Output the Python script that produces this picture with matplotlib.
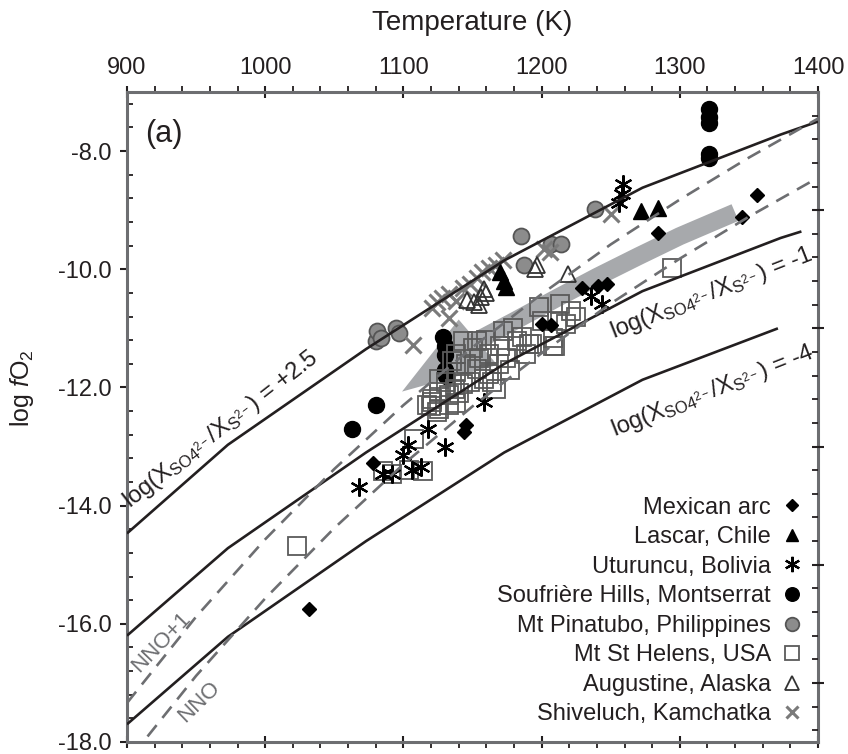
import numpy as np
import matplotlib
matplotlib.use('Agg')
import matplotlib.pyplot as plt
from matplotlib.lines import Line2D
from matplotlib.patches import Polygon
from matplotlib.ticker import MultipleLocator, FixedLocator

plt.rcParams['font.family'] = ['Liberation Sans', 'DejaVu Sans']
plt.rcParams['mathtext.fontset'] = 'custom'
plt.rcParams['mathtext.rm'] = 'Liberation Sans'
plt.rcParams['mathtext.it'] = 'Liberation Sans:italic'
plt.rcParams['mathtext.default'] = 'regular'

INK = '#231f20'
GREY = '#6d6e71'
BAND = '#a7a9ac'

# ---------------- reference curves ----------------
T_ratio_p25 = [900, 973, 1073, 1173, 1273, 1373, 1400]
fO2_ratio_p25 = [-14.47, -12.97, -11.35, -9.85, -8.62, -7.72, -7.50]
T_ratio_m1 = [900, 973, 1073, 1173, 1273, 1373, 1388]
fO2_ratio_m1 = [-16.20, -14.72, -13.10, -11.60, -10.37, -9.47, -9.36]
T_ratio_m4 = [900, 973, 1073, 1173, 1273, 1371]
fO2_ratio_m4 = [-17.70, -16.22, -14.60, -13.10, -11.87, -11.00]

T_nno = [900, 950, 1000, 1050, 1100, 1150, 1200, 1250, 1300, 1350, 1400]
fO2_nno = [-18.34, -16.88, -15.57, -14.38, -13.30, -12.32, -11.42, -10.58, -9.82, -9.11, -8.45]
fO2_nno1 = [-17.34, -15.88, -14.57, -13.38, -12.30, -11.32, -10.42, -9.58, -8.82, -8.11, -7.45]

# grey trend arrow
arrow_T = [1150, 1180, 1210, 1240, 1270, 1300, 1340]
arrow_fO2 = [-11.25, -10.88, -10.50, -10.13, -9.78, -9.44, -9.04]
head_T = [1099, 1140, 1168]
head_fO2 = [-12.07, -10.85, -11.62]

# ---------------- data ----------------
mex_T = [1032, 1078, 1144, 1145, 1200, 1207, 1229, 1241, 1247, 1284, 1345, 1356]
mex_f = [-15.75, -13.27, -12.75, -12.63, -10.92, -10.95, -10.32, -10.29, -10.25, -9.38, -9.12, -8.75]

las_T = [1170, 1173, 1174, 1272, 1284]
las_f = [-10.05, -10.20, -10.30, -9.02, -8.97]

utu_T = [1068, 1085, 1092, 1100, 1103, 1106, 1113, 1118, 1130, 1158, 1236, 1244, 1256, 1258, 1259]
utu_f = [-13.68, -13.47, -13.47, -13.15, -12.97, -13.39, -13.34, -12.70, -13.00, -12.25, -10.46, -10.58, -8.88, -8.72, -8.55]

sou_T = [1063, 1080, 1129, 1130, 1130, 1130, 1131, 1321, 1321, 1321, 1321, 1321]
sou_f = [-12.70, -12.30, -11.15, -11.30, -11.45, -11.70, -11.80, -7.28, -7.42, -7.52, -8.05, -8.12]

pin_T = [1080, 1081, 1084, 1095, 1097, 1185, 1187, 1207, 1214, 1239]
pin_f = [-11.22, -11.05, -11.17, -11.00, -11.08, -9.44, -9.93, -9.57, -9.58, -8.98]

msh_T = [1023, 1294, 1085, 1092, 1104, 1114, 1108, 1120, 1126, 1133,
         1117, 1121, 1124, 1138, 1126, 1133, 1121, 1131, 1137, 1143,
         1126, 1138, 1135, 1138, 1143, 1150, 1153, 1153, 1162, 1162,
         1164, 1167, 1169, 1172, 1174, 1177, 1179, 1182, 1186, 1189,
         1191, 1193, 1198, 1200, 1208, 1208, 1210, 1211, 1213, 1218,
         1221, 1225, 1145, 1155, 1158, 1148, 1140, 1160, 1170]
msh_f = [-14.69, -9.98, -13.42, -13.47, -13.39, -13.42, -12.88, -12.32, -12.36, -12.29,
         -12.29, -12.19, -12.41, -12.27, -12.07, -12.12, -12.24, -11.90, -12.03, -11.95,
         -11.85, -11.73, -11.56, -11.44, -11.22, -11.34, -11.68, -11.22, -11.44, -11.78,
         -11.90, -12.03, -11.61, -11.05, -11.50, -11.70, -11.00, -11.22, -11.14, -11.44,
         -11.27, -11.27, -10.63, -10.88, -11.17, -11.30, -11.30, -10.88, -10.58, -10.93,
         -10.71, -10.80, -11.60, -11.50, -11.85, -11.90, -12.10, -11.20, -11.30]

aug_T = [1146, 1151, 1155, 1156, 1158, 1160, 1195, 1197, 1219]
aug_f = [-10.52, -10.55, -10.60, -10.47, -10.34, -10.40, -10.00, -9.92, -10.08]

shi_T = [1107, 1121, 1124, 1128, 1133, 1133, 1138, 1143, 1148, 1153, 1157, 1162, 1167, 1172, 1202, 1206, 1250]
shi_f = [-11.28, -10.66, -10.55, -10.49, -10.42, -10.83, -10.54, -10.32, -10.25, -10.15, -10.05, -9.98, -9.92, -9.85, -9.65, -9.70, -9.07]

legend_labels = ['Mexican arc', 'Lascar, Chile', 'Uturuncu, Bolivia',
                 'Soufrière Hills, Montserrat', 'Mt Pinatubo, Philippines',
                 'Mt St Helens, USA', 'Augustine, Alaska', 'Shiveluch, Kamchatka']

xticks = [900, 1000, 1100, 1200, 1300, 1400]
yticks = [-8, -10, -12, -14, -16, -18]
ytick_labels = ['-8.0', '-10.0', '-12.0', '-14.0', '-16.0', '-18.0']
right_ticks = [-9, -11, -13, -15, -17]

# ---------------- figure ----------------
fig = plt.figure(figsize=(8.48, 7.54), dpi=100)
ax = fig.add_axes([127/848, 12/754, 691/848, 650/754])
ax.set_xlim(900, 1400)
ax.set_ylim(-18, -7.0)

# grey trend arrow
ax.plot(arrow_T, arrow_fO2, color=BAND, lw=13, solid_capstyle='butt', zorder=1)
ax.add_patch(Polygon(np.column_stack([head_T, head_fO2]), closed=True,
                     facecolor=BAND, edgecolor='none', zorder=1))

# markers
styles = [
    dict(marker='D', ms=7, mfc='black', mec='black', mew=1),
    dict(marker='^', ms=11, mfc='black', mec='black', mew=1),
    dict(marker=(6, 2, 0), ms=13, mfc='none', mec='black', mew=1.6),
    dict(marker='o', ms=11.5, mfc='black', mec='black', mew=1),
    dict(marker='o', ms=11.5, mfc='#8c8c8c', mec='#555555', mew=1.3),
    dict(marker='s', ms=12.5, mfc='none', mec='#5a5a5a', mew=1.3),
    dict(marker='^', ms=12, mfc='none', mec='#333333', mew=1.3),
    dict(marker='x', ms=11, mfc='none', mec='#7a7a7a', mew=2.2),
]
series = [(mex_T, mex_f), (las_T, las_f), (utu_T, utu_f), (sou_T, sou_f),
          (pin_T, pin_f), (msh_T, msh_f), (aug_T, aug_f), (shi_T, shi_f)]
draw_order = [4, 3, 7, 6, 5, 0, 1, 2]
for i in draw_order:
    T, f = series[i]
    ax.plot(T, f, linestyle='none', zorder=2, **styles[i])

# curves
for T, f in [(T_ratio_p25, fO2_ratio_p25), (T_ratio_m1, fO2_ratio_m1), (T_ratio_m4, fO2_ratio_m4)]:
    ax.plot(T, f, color=INK, lw=1.9, zorder=3, solid_capstyle='butt')
for f in [fO2_nno, fO2_nno1]:
    ax.plot(T_nno, f, color=GREY, lw=1.9, ls=(0, (5.5, 3.5)), zorder=3)

# labels on curves
ratio = r'log($X_{SO4^{2-}}/X_{S^{2-}}$) = '
ax.text(968, -12.72, ratio + '+2.5', rotation=38, fontsize=17, color=INK,
        ha='center', va='center', rotation_mode='anchor')
ax.text(1323, -10.41, ratio + '-1', rotation=21.5, fontsize=17, color=INK,
        ha='center', va='center', rotation_mode='anchor')
ax.text(1324, -12.07, ratio + '-4', rotation=21.5, fontsize=17, color=INK,
        ha='center', va='center', rotation_mode='anchor')
ax.text(925, -16.31, 'NNO+1', rotation=46, fontsize=16, color=GREY,
        ha='center', va='center', rotation_mode='anchor')
ax.text(952, -17.32, 'NNO', rotation=44, fontsize=16, color=GREY,
        ha='center', va='center', rotation_mode='anchor')
ax.text(0.054, 0.936, '(a)', transform=ax.transAxes, fontsize=22, color=INK,
        ha='center', va='center')

# legend
handles = [Line2D([], [], linestyle='none', **styles[i]) for i in range(8)]
leg = ax.legend(handles, legend_labels, loc='lower right', bbox_to_anchor=(1.0, 0.0),
                markerfirst=False, frameon=False, fontsize=17, handlelength=0.8,
                handletextpad=0.5, labelspacing=0.32, markerscale=0.85,
                borderaxespad=0.3)
for t in leg.get_texts():
    t.set_color(INK)

# axes styling
for s in ax.spines.values():
    s.set_color(GREY)
    s.set_linewidth(2.2)

ax.xaxis.set_ticks_position('both')
ax.xaxis.set_label_position('top')
ax.set_xticks(xticks)
ax.xaxis.set_minor_locator(MultipleLocator(20))
ax.tick_params(axis='x', which='both', top=True, bottom=True, labeltop=True, labelbottom=False,
               labelsize=17, colors=INK)
ax.tick_params(axis='x', which='major', direction='inout', length=9, width=1.5, pad=5)
ax.tick_params(axis='x', which='minor', direction='out', length=4, width=1.3)
ax.set_xlabel('Temperature (K)', fontsize=20, color=INK, labelpad=19)

ax.set_yticks(yticks)
ax.set_yticklabels(ytick_labels)
ax.yaxis.set_minor_locator(MultipleLocator(0.4))
ax.tick_params(axis='y', which='both', left=True, right=False, labelsize=17, colors=INK)
ax.tick_params(axis='y', which='major', direction='out', length=5, width=1.5, pad=6)
ax.tick_params(axis='y', which='minor', direction='in', length=4, width=1.3)
ax.set_ylabel(r'log $\mathit{f}$O$_2$', fontsize=18, color=INK)
ax.yaxis.set_label_coords(-0.131, 0.545)

ax2 = ax.twinx()
ax2.set_ylim(ax.get_ylim())
for s in ax2.spines.values():
    s.set_visible(False)
ax2.yaxis.set_major_locator(FixedLocator(right_ticks))
ax2.yaxis.set_minor_locator(FixedLocator(np.arange(-17.8, -7.0, 0.4)))
ax2.tick_params(axis='y', which='both', labelright=False, colors=INK)
ax2.tick_params(axis='y', which='major', direction='inout', length=9, width=1.5)
ax2.tick_params(axis='y', which='minor', direction='in', length=4, width=1.3)

fig.savefig('out.png', dpi=100)
